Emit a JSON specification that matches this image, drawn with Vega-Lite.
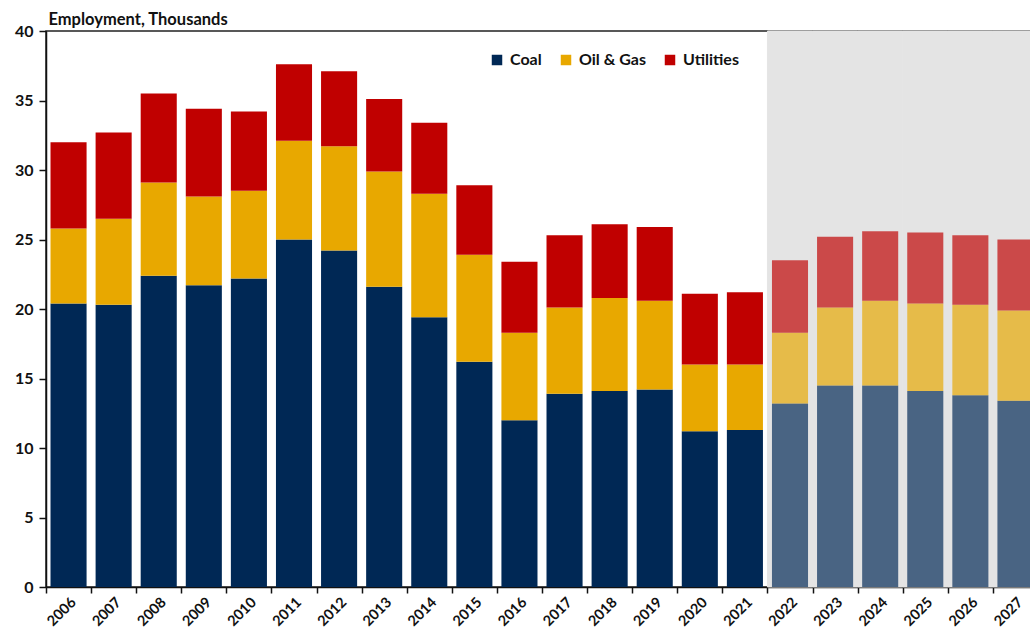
{
  "$schema": "https://vega.github.io/schema/vega-lite/v6.json",
  "width": 992,
  "height": 556,
  "padding": {"left": 14, "top": 11, "right": 0, "bottom": 5},
  "config": {
    "view": {"stroke": "#222", "strokeWidth": 1.5},
    "font": "Lato"
  },
  "datasets": {
    "emp": [
      {"year": "2006", "series": "Coal", "value": 20.4},
      {"year": "2006", "series": "Oil & Gas", "value": 5.4},
      {"year": "2006", "series": "Utilities", "value": 6.2},
      {"year": "2007", "series": "Coal", "value": 20.3},
      {"year": "2007", "series": "Oil & Gas", "value": 6.2},
      {"year": "2007", "series": "Utilities", "value": 6.2},
      {"year": "2008", "series": "Coal", "value": 22.4},
      {"year": "2008", "series": "Oil & Gas", "value": 6.7},
      {"year": "2008", "series": "Utilities", "value": 6.4},
      {"year": "2009", "series": "Coal", "value": 21.7},
      {"year": "2009", "series": "Oil & Gas", "value": 6.4},
      {"year": "2009", "series": "Utilities", "value": 6.3},
      {"year": "2010", "series": "Coal", "value": 22.2},
      {"year": "2010", "series": "Oil & Gas", "value": 6.3},
      {"year": "2010", "series": "Utilities", "value": 5.7},
      {"year": "2011", "series": "Coal", "value": 25.0},
      {"year": "2011", "series": "Oil & Gas", "value": 7.1},
      {"year": "2011", "series": "Utilities", "value": 5.5},
      {"year": "2012", "series": "Coal", "value": 24.2},
      {"year": "2012", "series": "Oil & Gas", "value": 7.5},
      {"year": "2012", "series": "Utilities", "value": 5.4},
      {"year": "2013", "series": "Coal", "value": 21.6},
      {"year": "2013", "series": "Oil & Gas", "value": 8.3},
      {"year": "2013", "series": "Utilities", "value": 5.2},
      {"year": "2014", "series": "Coal", "value": 19.4},
      {"year": "2014", "series": "Oil & Gas", "value": 8.9},
      {"year": "2014", "series": "Utilities", "value": 5.1},
      {"year": "2015", "series": "Coal", "value": 16.2},
      {"year": "2015", "series": "Oil & Gas", "value": 7.7},
      {"year": "2015", "series": "Utilities", "value": 5.0},
      {"year": "2016", "series": "Coal", "value": 12.0},
      {"year": "2016", "series": "Oil & Gas", "value": 6.3},
      {"year": "2016", "series": "Utilities", "value": 5.1},
      {"year": "2017", "series": "Coal", "value": 13.9},
      {"year": "2017", "series": "Oil & Gas", "value": 6.2},
      {"year": "2017", "series": "Utilities", "value": 5.2},
      {"year": "2018", "series": "Coal", "value": 14.1},
      {"year": "2018", "series": "Oil & Gas", "value": 6.7},
      {"year": "2018", "series": "Utilities", "value": 5.3},
      {"year": "2019", "series": "Coal", "value": 14.2},
      {"year": "2019", "series": "Oil & Gas", "value": 6.4},
      {"year": "2019", "series": "Utilities", "value": 5.3},
      {"year": "2020", "series": "Coal", "value": 11.2},
      {"year": "2020", "series": "Oil & Gas", "value": 4.8},
      {"year": "2020", "series": "Utilities", "value": 5.1},
      {"year": "2021", "series": "Coal", "value": 11.3},
      {"year": "2021", "series": "Oil & Gas", "value": 4.7},
      {"year": "2021", "series": "Utilities", "value": 5.2},
      {"year": "2022", "series": "Coal", "value": 13.2},
      {"year": "2022", "series": "Oil & Gas", "value": 5.1},
      {"year": "2022", "series": "Utilities", "value": 5.2},
      {"year": "2023", "series": "Coal", "value": 14.5},
      {"year": "2023", "series": "Oil & Gas", "value": 5.6},
      {"year": "2023", "series": "Utilities", "value": 5.1},
      {"year": "2024", "series": "Coal", "value": 14.5},
      {"year": "2024", "series": "Oil & Gas", "value": 6.1},
      {"year": "2024", "series": "Utilities", "value": 5.0},
      {"year": "2025", "series": "Coal", "value": 14.1},
      {"year": "2025", "series": "Oil & Gas", "value": 6.3},
      {"year": "2025", "series": "Utilities", "value": 5.1},
      {"year": "2026", "series": "Coal", "value": 13.8},
      {"year": "2026", "series": "Oil & Gas", "value": 6.5},
      {"year": "2026", "series": "Utilities", "value": 5.0},
      {"year": "2027", "series": "Coal", "value": 13.4},
      {"year": "2027", "series": "Oil & Gas", "value": 6.5},
      {"year": "2027", "series": "Utilities", "value": 5.1}
    ]
  },
  "data": {"name": "emp"},
  "encoding": {
    "x": {
      "field": "year",
      "type": "ordinal",
      "scale": {"paddingInner": 0, "paddingOuter": 0},
      "axis": {
        "title": null,
        "labelAngle": -45,
        "labelFont": "Lato",
        "labelFontWeight": "bold",
        "labelFontSize": 14.5,
        "labelColor": "#111",
        "tickBand": "extent",
        "tickColor": "#111",
        "tickSize": 6,
        "tickWidth": 1.5,
        "domainColor": "#111",
        "domainWidth": 1.5,
        "labelPadding": 2
      }
    }
  },
  "layer": [
    {
      "transform": [{"filter": "datum.series == 'Coal' && toNumber(datum.year) >= 2022"}],
      "mark": {"type": "bar", "color": "#e4e4e4", "stroke": "#e4e4e4", "strokeWidth": 1, "width": {"band": 1}},
      "encoding": {"y": {"datum": 40}, "y2": {"datum": 0}}
    },
    {
      "mark": {"type": "bar", "width": {"band": 0.8}},
      "encoding": {
        "y": {
          "field": "value",
          "type": "quantitative",
          "stack": "zero",
          "scale": {"domain": [0, 40]},
          "axis": {
            "title": "Employment, Thousands",
            "titleAngle": 0,
            "titleX": 2,
            "titleY": -4,
            "titleAlign": "left",
            "titleBaseline": "bottom",
            "titleFont": "Lato",
            "titleFontSize": 16.5,
            "titleFontWeight": "bold",
            "titleColor": "#111",
            "values": [0, 5, 10, 15, 20, 25, 30, 35, 40],
            "grid": false,
            "labelFont": "Lato",
            "labelFontSize": 16,
            "labelFontWeight": "bold",
            "labelColor": "#111",
            "tickColor": "#111",
            "tickSize": 7,
            "tickWidth": 1.5,
            "domainColor": "#111",
            "domainWidth": 1.5,
            "labelPadding": 6
          }
        },
        "color": {
          "field": "series",
          "type": "nominal",
          "scale": {"domain": ["Coal", "Oil & Gas", "Utilities"], "range": ["#002855", "#e8a800", "#c00000"]},
          "legend": {
            "title": null,
            "orient": "none",
            "direction": "horizontal",
            "legendX": 443,
            "legendY": 21,
            "symbolType": "square",
            "symbolSize": 110,
            "symbolOpacity": 1,
            "labelFont": "Lato",
            "labelFontSize": 16,
            "labelFontWeight": "bold",
            "labelColor": "#111",
            "columnPadding": 16,
            "labelOffset": 5
          }
        },
        "order": {"field": "series", "sort": "ascending"},
        "opacity": {
          "condition": {"test": "toNumber(datum.year) >= 2022", "value": 0.68},
          "value": 1
        }
      }
    }
  ]
}
